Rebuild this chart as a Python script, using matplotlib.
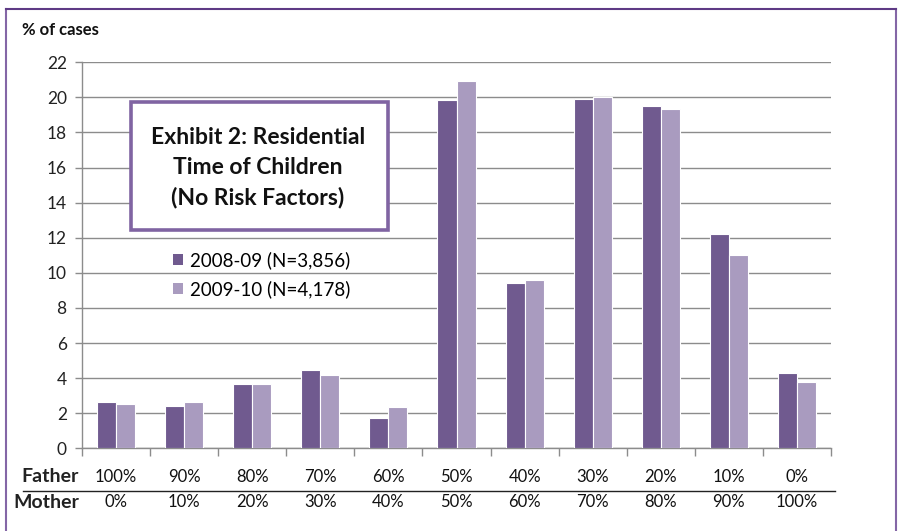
import matplotlib
matplotlib.use("Agg")
import matplotlib.pyplot as plt
from matplotlib.patches import Rectangle
from matplotlib.lines import Line2D
import matplotlib.transforms as mtransforms

plt.rcParams['font.family'] = ['Lato', 'DejaVu Sans']

father = ["100%", "90%", "80%", "70%", "60%", "50%", "40%", "30%", "20%", "10%", "0%"]
mother = ["0%", "10%", "20%", "30%", "40%", "50%", "60%", "70%", "80%", "90%", "100%"]
series_names = ["2008-09 (N=3,856)", "2009-10 (N=4,178)"]
vals_0809 = [2.66, 2.41, 3.68, 4.46, 1.75, 19.85, 9.44, 19.92, 19.49, 12.21, 4.27]
vals_0910 = [2.51, 2.66, 3.68, 4.19, 2.35, 20.93, 9.59, 20.0, 19.33, 11.03, 3.76]
yticks = list(range(0, 23, 2))

W, H = 900, 531
fig = plt.figure(figsize=(9, 5.31), dpi=100)

def fx(px):
    return px / W

def fy(py):
    return 1 - py / H

ax = fig.add_axes([fx(82), fy(448.3), fx(831) - fx(82), fy(62.3) - fy(448.3)])

dark = "#705a8f"
light = "#a99bbf"
w = 0.28
x = list(range(len(father)))
b1 = ax.bar([i - w / 2 for i in x], vals_0809, width=w, color=dark, edgecolor="white",
            linewidth=0.8, label=series_names[0], zorder=3)
b2 = ax.bar([i + w / 2 for i in x], vals_0910, width=w, color=light, edgecolor="white",
            linewidth=0.8, label=series_names[1], zorder=3)

ax.set_xlim(-0.5, len(father) - 0.5)
ax.set_ylim(0, 22)
ax.set_yticks(yticks)
ax.set_yticklabels([str(t) for t in yticks], fontsize=12.5, color="#222222")
ax.yaxis.grid(True, color="#8c8c8c", linewidth=1.0, zorder=0)
ax.set_axisbelow(True)
ax.tick_params(axis="y", length=5, color="#8c8c8c", width=1, pad=6)

ax.set_xticks([i - 0.5 for i in range(len(father) + 1)])
ax.set_xticklabels([])
ax.tick_params(axis="x", length=6, color="#8c8c8c", width=1)

for s in ["top", "right"]:
    ax.spines[s].set_visible(False)
for s in ["left", "bottom"]:
    ax.spines[s].set_color("#8c8c8c")
    ax.spines[s].set_linewidth(1.0)

trans = mtransforms.blended_transform_factory(ax.transData, fig.transFigure)
for i in x:
    ax.text(i, fy(477), father[i], transform=trans, ha="center", va="center",
            fontsize=12, color="#111111")
    ax.text(i, fy(502), mother[i], transform=trans, ha="center", va="center",
            fontsize=12, color="#111111")

fig.text(fx(79), fy(477), "Father", ha="right", va="center", fontsize=14,
         fontweight="bold", color="#222222")
fig.text(fx(79), fy(502), "Mother", ha="right", va="center", fontsize=14,
         fontweight="bold", color="#222222")
fig.add_artist(Line2D([fx(23), fx(835)], [fy(490.7), fy(490.7)], color="#222222",
                      linewidth=1.0, transform=fig.transFigure))

fig.text(fx(22), fy(30), "% of cases", ha="left", va="center", fontsize=12,
         fontweight="bold", color="#111111")

# outer frame
frame_col = "#8466a6"
fig.add_artist(Line2D([fx(5.5), fx(5.5)], [0, fy(9)], color=frame_col, linewidth=1.5,
                      transform=fig.transFigure))
fig.add_artist(Line2D([fx(896), fx(896)], [0, fy(9)], color=frame_col, linewidth=1.5,
                      transform=fig.transFigure))
fig.add_artist(Line2D([fx(5.5), fx(896)], [fy(9), fy(9)], color="#5e3a85", linewidth=1.5,
                      transform=fig.transFigure))

# title box
fig.add_artist(Rectangle((fx(131), fy(230)), fx(388) - fx(131), fy(102) - fy(230),
                         transform=fig.transFigure, facecolor="white",
                         edgecolor="#8064a2", linewidth=2.6, zorder=5))
fig.text(fx(258), fy(168), "Exhibit 2: Residential\nTime of Children\n(No Risk Factors)",
         ha="center", va="center", fontsize=16.5, fontweight="bold", color="#111111",
         linespacing=1.5, zorder=6)

leg = ax.legend(handles=[b1, b2], loc="upper left", bbox_to_anchor=(fx(160), fy(238)),
                bbox_transform=fig.transFigure, frameon=False, fontsize=13.5,
                handlelength=0.55, handleheight=0.55, handletextpad=0.35,
                labelspacing=0.6, borderpad=0.2)
for h in leg.legend_handles:
    h.set_edgecolor("none")

fig.savefig("out.png", dpi=100, facecolor="white")
